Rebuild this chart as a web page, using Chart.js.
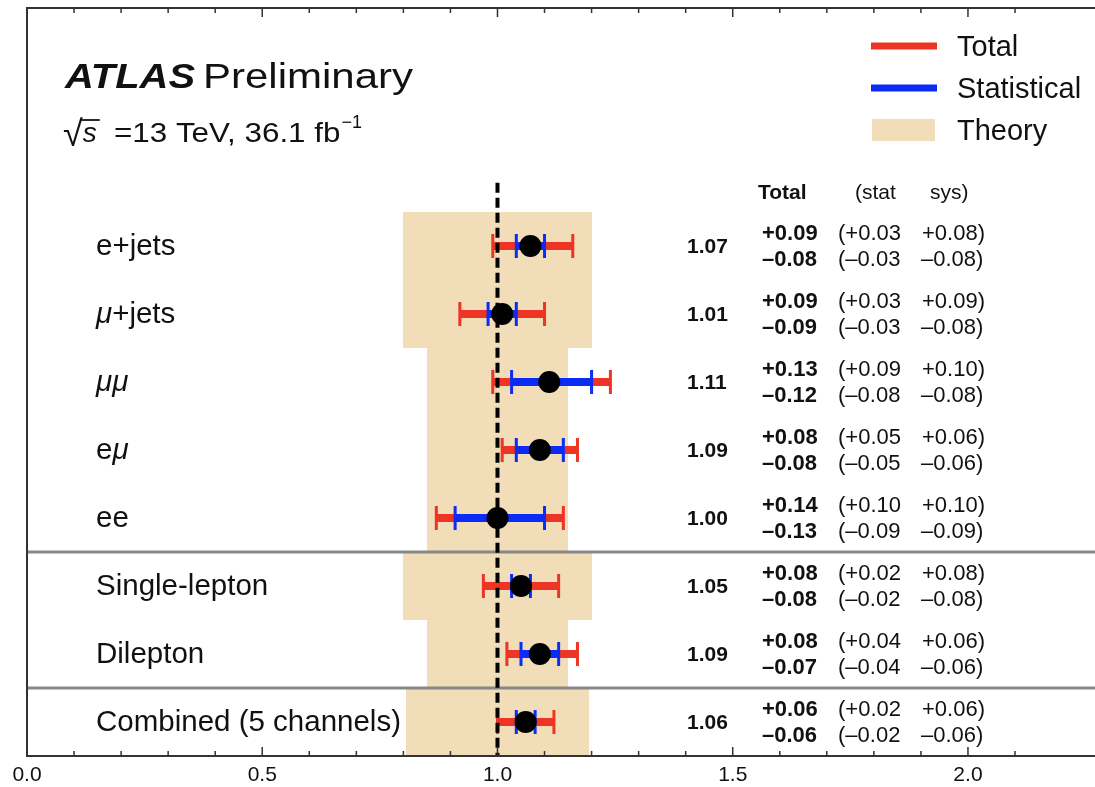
<!DOCTYPE html>
<html>
<head>
<meta charset="utf-8">
<script src="https://cdn.jsdelivr.net/npm/chart.js@4"></script>
<style>
  html, body { margin: 0; padding: 0; background: #fff; }
  #wrap { width: 1095px; height: 787px; }
</style>
</head>
<body>
<div id="wrap"><canvas id="xsec"></canvas></div>
<script>
// rows, top to bottom
const categories = ["e+jets", "μ+jets", "μμ", "eμ", "ee", "Single-lepton", "Dilepton", "Combined (5 channels)"];
const central = [1.07, 1.01, 1.11, 1.09, 1.00, 1.05, 1.09, 1.06];
const totalUp = [0.09, 0.09, 0.13, 0.08, 0.14, 0.08, 0.08, 0.06];
const totalDown = [0.08, 0.09, 0.12, 0.08, 0.13, 0.08, 0.07, 0.06];
const statUp = [0.03, 0.03, 0.09, 0.05, 0.10, 0.02, 0.04, 0.02];
const statDown = [0.03, 0.03, 0.08, 0.05, 0.09, 0.02, 0.04, 0.02];
const sysUp = [0.08, 0.09, 0.10, 0.06, 0.10, 0.08, 0.06, 0.06];
const sysDown = [0.08, 0.08, 0.08, 0.06, 0.09, 0.08, 0.06, 0.06];
const theoryLow = [0.80, 0.80, 0.85, 0.85, 0.85, 0.80, 0.85, 0.805];
const theoryHigh = [1.20, 1.20, 1.15, 1.15, 1.15, 1.20, 1.15, 1.195];
const groupEnds = [4, 6];          // separator drawn below these rows
const majorTicks = [0.0, 0.5, 1.0, 1.5, 2.0];

const RED = "#ee3424", BLUE = "#0b2cf5", BEIGE = "#f1ddb8", INK = "#111";
const FONT = "'Liberation Sans', Arial, Helvetica, sans-serif";

const rowY = i => categories.length - 1 - i;
const fmt = v => v.toFixed(2);

function stretched(ctx, txt, x, y, font, sx) {
  ctx.save();
  ctx.font = font;
  ctx.translate(x, y);
  ctx.scale(sx, 1);
  ctx.fillText(txt, 0, 0);
  const w = ctx.measureText(txt).width * sx;
  ctx.restore();
  return w;
}

// label with italic greek mu
function drawLabel(ctx, txt, x, y) {
  let cx = x;
  for (const ch of txt) {
    ctx.font = (ch === "μ" ? "italic " : "") + "29.5px " + FONT;
    ctx.fillText(ch, cx, y);
    cx += ctx.measureText(ch).width;
  }
}

const atlasPlugin = {
  id: "atlas",
  beforeDatasetsDraw(chart) {
    const { ctx, chartArea: a, scales: { x, y } } = chart;
    ctx.save();

    // theory bands
    ctx.fillStyle = BEIGE;
    categories.forEach((c, i) => {
      const x0 = Math.round(x.getPixelForValue(theoryLow[i]));
      const x1 = Math.round(x.getPixelForValue(theoryHigh[i]));
      const y0 = Math.round(y.getPixelForValue(rowY(i) + 0.5));
      const y1 = Math.round(y.getPixelForValue(rowY(i) - 0.5));
      ctx.fillRect(x0, y0, x1 - x0, y1 - y0);
    });

    // group separators
    ctx.strokeStyle = "#888";
    ctx.lineWidth = 3;
    groupEnds.forEach(i => {
      const py = y.getPixelForValue(rowY(i) - 0.5);
      ctx.beginPath();
      ctx.moveTo(a.left, py);
      ctx.lineTo(a.right, py);
      ctx.stroke();
    });

    // error bars
    const errBar = (i, lo, hi, color) => {
      const py = y.getPixelForValue(rowY(i));
      const x0 = x.getPixelForValue(lo), x1 = x.getPixelForValue(hi);
      ctx.strokeStyle = color;
      ctx.lineCap = "butt";
      ctx.lineWidth = 8;
      ctx.beginPath();
      ctx.moveTo(x0, py);
      ctx.lineTo(x1, py);
      ctx.stroke();
      ctx.lineWidth = 3;
      ctx.beginPath();
      ctx.moveTo(x0, py - 12); ctx.lineTo(x0, py + 12);
      ctx.moveTo(x1, py - 12); ctx.lineTo(x1, py + 12);
      ctx.stroke();
    };
    categories.forEach((c, i) => {
      errBar(i, central[i] - totalDown[i], central[i] + totalUp[i], RED);
      errBar(i, central[i] - statDown[i], central[i] + statUp[i], BLUE);
    });

    // SM reference line
    const px = x.getPixelForValue(1.0);
    ctx.strokeStyle = "#000";
    ctx.lineWidth = 4;
    ctx.setLineDash([10, 5]);
    ctx.beginPath();
    ctx.moveTo(px, y.getPixelForValue(rowY(0) + 0.93));
    ctx.lineTo(px, a.bottom);
    ctx.stroke();
    ctx.restore();
  },
  afterDraw(chart) {
    const { ctx, chartArea: a, scales: { x, y } } = chart;
    ctx.save();

    // frame and inward ticks
    ctx.strokeStyle = "#333";
    ctx.lineWidth = 2;
    ctx.beginPath();
    ctx.moveTo(a.right, a.top); ctx.lineTo(a.left, a.top);
    ctx.lineTo(a.left, a.bottom); ctx.lineTo(a.right, a.bottom);
    ctx.stroke();
    ctx.lineWidth = 1.5;
    x.ticks.forEach(t => {
      const k = Math.round(t.value * 10);
      if (Math.abs(t.value * 10 - k) > 1e-6) return;
      const px = x.getPixelForValue(t.value);
      const len = k % 5 === 0 ? 9 : 5;
      ctx.beginPath();
      ctx.moveTo(px, a.bottom); ctx.lineTo(px, a.bottom - len);
      ctx.moveTo(px, a.top); ctx.lineTo(px, a.top + len);
      ctx.stroke();
    });

    ctx.fillStyle = INK;
    ctx.textBaseline = "middle";
    ctx.textAlign = "left";

    // row labels, values and uncertainty table
    categories.forEach((c, i) => {
      const py = y.getPixelForValue(rowY(i));
      drawLabel(ctx, c, 96, py + 1);
      ctx.font = "bold 21px " + FONT;
      ctx.fillText(fmt(central[i]), 687, py + 1);
      ctx.font = "bold 22px " + FONT;
      ctx.fillText("+" + fmt(totalUp[i]), 762, py - 12);
      ctx.fillText("–" + fmt(totalDown[i]), 762, py + 14);
      ctx.font = "22px " + FONT;
      ctx.fillText("(+" + fmt(statUp[i]), 838, py - 12);
      ctx.fillText("(–" + fmt(statDown[i]), 838, py + 14);
      ctx.fillText("+" + fmt(sysUp[i]) + ")", 922, py - 12);
      ctx.fillText("–" + fmt(sysDown[i]) + ")", 921, py + 14);
    });

    // table header
    ctx.font = "bold 21px " + FONT;
    ctx.fillText("Total", 758, 193);
    ctx.font = "21px " + FONT;
    ctx.fillText("(stat", 855, 193);
    ctx.fillText("sys)", 930, 193);

    // ATLAS label
    ctx.textBaseline = "alphabetic";
    stretched(ctx, "ATLAS", 65, 88, "italic bold 35px " + FONT, 1.14);
    stretched(ctx, "Preliminary", 203, 88, "35px " + FONT, 1.2);

    // sqrt(s) line
    ctx.font = "36px " + FONT;
    ctx.fillText("√", 63, 146);
    const rw = ctx.measureText("√").width;
    ctx.font = "italic 28px " + FONT;
    ctx.fillText("s", 63 + rw, 142);
    const sw = ctx.measureText("s").width;
    ctx.lineWidth = 1.8;
    ctx.strokeStyle = INK;
    ctx.beginPath();
    ctx.moveTo(63 + rw - 1.5, 120);
    ctx.lineTo(63 + rw + sw + 3, 120);
    ctx.stroke();
    const w2 = stretched(ctx, "=13 TeV, 36.1 fb", 114, 142, "28px " + FONT, 1.12);
    ctx.font = "18px " + FONT;
    ctx.fillText("−1", 114 + w2 + 1, 128);

    // legend
    ctx.textBaseline = "middle";
    const legend = [["Total", RED], ["Statistical", BLUE], ["Theory", BEIGE]];
    legend.forEach(([name, col], k) => {
      const ly = 46 + k * 42;
      if (k < 2) {
        ctx.strokeStyle = col;
        ctx.lineWidth = 7;
        ctx.beginPath();
        ctx.moveTo(871, ly); ctx.lineTo(937, ly);
        ctx.stroke();
      } else {
        ctx.fillStyle = col;
        ctx.fillRect(872, ly - 11, 63, 22);
      }
      ctx.fillStyle = INK;
      ctx.font = "29px " + FONT;
      ctx.fillText(name, 957, ly + 2);
    });
    ctx.restore();
  }
};

new Chart(document.getElementById("xsec"), {
  type: "scatter",
  data: {
    datasets: [{
      data: categories.map((c, i) => ({ x: central[i], y: rowY(i) })),
      pointRadius: 11,
      pointHoverRadius: 11,
      pointBackgroundColor: "#000",
      pointBorderWidth: 0
    }]
  },
  options: {
    responsive: true,
    maintainAspectRatio: false,
    animation: false,
    layout: { autoPadding: false, padding: { left: 27, top: 8, right: 0, bottom: 0 } },
    plugins: { legend: { display: false }, tooltip: { enabled: false } },
    scales: {
      x: {
        type: "linear",
        min: 0,
        max: 2.27,
        grid: { display: false, drawTicks: false },
        border: { display: false },
        ticks: {
          stepSize: 0.1,
          autoSkip: false,
          maxRotation: 0,
          padding: 7,
          color: INK,
          font: { family: FONT, size: 21 },
          callback: v => majorTicks.some(m => Math.abs(m - v) < 1e-6) ? v.toFixed(1) : ""
        },
        afterFit: s => { s.paddingRight = 0; s.height = 31; }
      },
      y: { type: "linear", min: -0.5, max: 10.5, display: false }
    }
  },
  plugins: [atlasPlugin]
});
</script>
</body>
</html>
